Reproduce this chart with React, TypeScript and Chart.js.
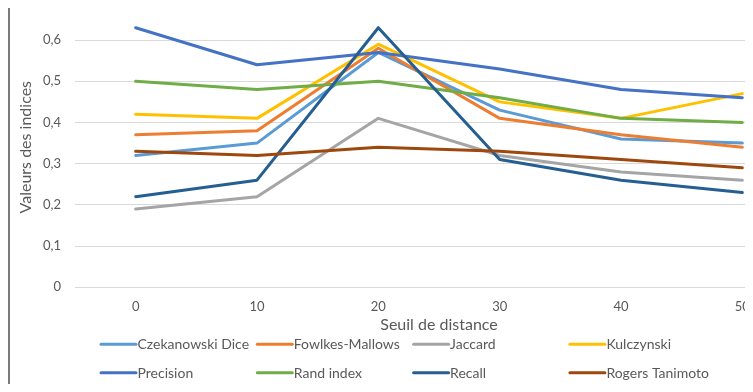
import React, { useEffect, useRef } from "react";
import { Chart, registerables } from "chart.js";

Chart.register(...registerables);

// Distance thresholds (x categories)
const distances = ["0", "10", "20", "30", "40", "50"];

// Index values per threshold
const czekanowskiDice = [0.32, 0.35, 0.57, 0.43, 0.36, 0.35];
const fowlkesMallows = [0.37, 0.38, 0.58, 0.41, 0.37, 0.34];
const jaccard = [0.19, 0.22, 0.41, 0.32, 0.28, 0.26];
const kulczynski = [0.42, 0.41, 0.59, 0.45, 0.41, 0.47];
const precision = [0.63, 0.54, 0.57, 0.53, 0.48, 0.46];
const randIndex = [0.5, 0.48, 0.5, 0.46, 0.41, 0.4];
const recall = [0.22, 0.26, 0.63, 0.31, 0.26, 0.23];
const rogersTanimoto = [0.33, 0.32, 0.34, 0.33, 0.31, 0.29];

// Value-axis ticks
const yTickValues = [0, 0.1, 0.2, 0.3, 0.4, 0.5, 0.6];

const seriesNames = [
  "Czekanowski Dice",
  "Fowlkes-Mallows",
  "Jaccard",
  "Kulczynski",
  "Precision",
  "Rand index",
  "Recall",
  "Rogers Tanimoto",
];
const seriesValues = [
  czekanowskiDice,
  fowlkesMallows,
  jaccard,
  kulczynski,
  precision,
  randIndex,
  recall,
  rogersTanimoto,
];
const seriesColors = [
  "#5B9BD5",
  "#ED7D31",
  "#A5A5A5",
  "#FFC000",
  "#4472C4",
  "#70AD47",
  "#255E91",
  "#9E480E",
];

const TEXT = "#595959";
const FONT = "Lato";

// Legend laid out on a fixed 4-column grid under the axis title
const gridLegend = {
  id: "gridLegend",
  afterDraw(chart: any) {
    const { ctx, chartArea } = chart;
    const colW = 156.3;
    const rowH = 28.4;
    const x0 = chartArea.left + 25;
    const y0 = chartArea.bottom + 57;
    chart.data.datasets.forEach((ds: any, i: number) => {
      const col = i % 4;
      const row = Math.floor(i / 4);
      const x = x0 + col * colW;
      const y = y0 + row * rowH;
      ctx.save();
      ctx.strokeStyle = ds.borderColor;
      ctx.lineWidth = 3;
      ctx.lineCap = "round";
      ctx.beginPath();
      ctx.moveTo(x + 1, y);
      ctx.lineTo(x + 36, y);
      ctx.stroke();
      ctx.fillStyle = TEXT;
      ctx.font = `14px ${FONT}`;
      ctx.textBaseline = "middle";
      ctx.fillText(ds.label, x + 37.5, y + 0.5);
      ctx.restore();
    });
  },
};

export default function App() {
  const canvasRef = useRef<HTMLCanvasElement | null>(null);

  useEffect(() => {
    document.documentElement.style.overflow = "hidden";
    if (!canvasRef.current) return;
    const chart = new Chart(canvasRef.current, {
      type: "line",
      data: {
        labels: distances,
        datasets: seriesNames.map((name, i) => ({
          label: name,
          data: seriesValues[i],
          borderColor: seriesColors[i],
          backgroundColor: seriesColors[i],
          borderWidth: 3,
          pointRadius: 0,
          tension: 0,
          borderJoinStyle: "round" as const,
          borderCapStyle: "round" as const,
          order: seriesNames.length - i,
        })),
      },
      options: {
        responsive: false,
        animation: false,
        layout: { padding: { top: 2.1, left: 0, right: 7, bottom: 85.7 } },
        plugins: {
          legend: { display: false },
          tooltip: { enabled: false },
        },
        scales: {
          x: {
            offset: true,
            afterFit: (s: any) => {
              s.height = 52;
              s.paddingLeft = 0;
              s.paddingRight = 0;
            },
            grid: { display: false, drawTicks: false },
            border: { display: false },
            ticks: {
              padding: 12,
              color: TEXT,
              font: { family: FONT, size: 13 },
            },
            title: {
              display: true,
              text: "Seuil de distance",
              color: TEXT,
              font: { family: FONT, size: 16 },
              padding: { top: 0, bottom: 5 },
            },
          },
          y: {
            min: 0,
            max: 0.68,
            afterBuildTicks: (s: any) => {
              s.ticks = yTickValues.map((v) => ({ value: v }));
            },
            afterFit: (s: any) => {
              s.width = 65;
              s.paddingTop = 0;
              s.paddingBottom = 0;
            },
            grid: { color: "#D9D9D9", lineWidth: 1, drawTicks: false },
            border: { display: false },
            ticks: {
              padding: 14,
              color: TEXT,
              font: { family: FONT, size: 13 },
              callback: (v: any) =>
                Number(v) === 0 ? "0" : Number(v).toFixed(1).replace(".", ","),
            },
            title: {
              display: true,
              text: "Valeurs des indices",
              color: TEXT,
              font: { family: FONT, size: 16 },
              padding: { top: 6, bottom: 0 },
            },
          },
        },
      },
      plugins: [gridLegend],
    });
    return () => chart.destroy();
  }, []);

  return (
    <div
      style={{
        marginTop: -5,
        marginBottom: -8,
        marginRight: -8,
        width: 745,
        height: 389,
        overflow: "hidden",
        borderLeft: "2px solid #7a7a7a",
        borderTop: "2px solid #7a7a7a",
        boxSizing: "border-box",
        background: "#fff",
      }}
    >
      <div style={{ width: 800, height: 420 }}>
        <canvas ref={canvasRef} width={800} height={420} />
      </div>
    </div>
  );
}
